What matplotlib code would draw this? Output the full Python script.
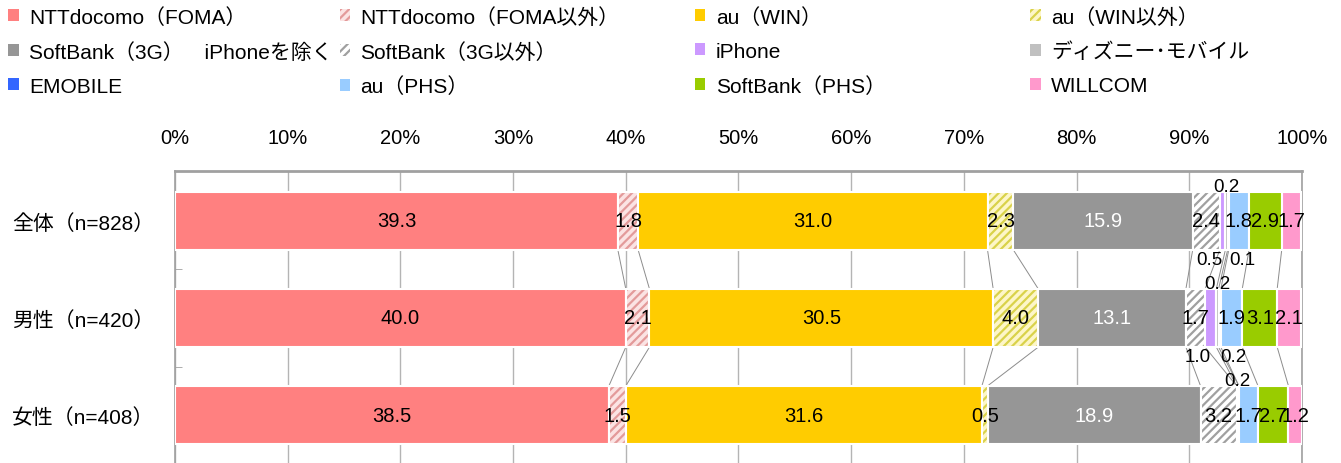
import numpy as np
import matplotlib
matplotlib.use("Agg")
import matplotlib.pyplot as plt
from matplotlib.patches import Patch

plt.rcParams['font.family'] = ['Liberation Sans', 'Noto Sans CJK JP', 'DejaVu Sans']
plt.rcParams['hatch.linewidth'] = 1.6

groups = ['全体（n=828）', '男性（n=420）', '女性（n=408）']
series = ['NTTdocomo（FOMA）', 'NTTdocomo（FOMA以外）', 'au（WIN）', 'au（WIN以外）',
          'SoftBank（3G）　iPhoneを除く', 'SoftBank（3G以外）', 'iPhone', 'ディズニー･モバイル',
          'EMOBILE', 'au（PHS）', 'SoftBank（PHS）', 'WILLCOM']

total = [39.3, 1.8, 31.0, 2.3, 15.9, 2.4, 0.5, 0.2, 0.1, 1.8, 2.9, 1.7]
male = [40.0, 2.1, 30.5, 4.0, 13.1, 1.7, 1.0, 0.2, 0.2, 1.9, 3.1, 2.1]
female = [38.5, 1.5, 31.6, 0.5, 18.9, 3.2, 0.0, 0.2, 0.0, 1.7, 2.7, 1.2]

xticks = [0, 10, 20, 30, 40, 50, 60, 70, 80, 90, 100]
xticklabels = ['%d%%' % v for v in xticks]

# face colour, hatch colour (None = solid)
faces = ['#ff8080', '#fbe3e3', '#ffcc00', '#fdf6c8', '#969696', '#ffffff',
         '#cc99ff', '#c0c0c0', '#3366ff', '#99ccff', '#99cc00', '#ff99cc']
hatches = [None, '#e39a9a', None, '#d9d24a', None, '#a0a0a0',
           None, None, None, None, None, None]
# label placement for the tiny segments: 0 = inside, 1 = above, -1 = below
place = [0, 0, 0, 0, 0, 0, -1, 1, -1, 0, 0, 0]
# sideways nudge (pixels) for the tiny labels so they do not collide
nudge = [0, 0, 0, 0, 0, 0, -13, 0, 14, 0, 0, 0]
white_text = [False, False, False, False, True, False,
              False, False, False, False, False, False]

data = np.array([total, male, female])
ypos = np.arange(len(groups))
h = 0.6

fig = plt.figure(figsize=(13.41, 4.64), dpi=100)
ax = fig.add_axes([0.1305, -0.0043, 0.8404, 0.6336])

left = np.zeros(len(groups))
for i in range(len(series)):
    vals = data[:, i]
    if hatches[i] is None:
        ax.barh(ypos, vals, h, left=left, color=faces[i], edgecolor='white', linewidth=1.5, zorder=3)
    else:
        ax.barh(ypos, vals, h, left=left, color=faces[i], edgecolor=hatches[i], hatch='////',
                linewidth=0, zorder=3)
        ax.barh(ypos, vals, h, left=left, fill=False, edgecolor='white', linewidth=1.5, zorder=3)
    for g in range(len(groups)):
        v = vals[g]
        if v <= 0:
            continue
        cx = left[g] + v / 2
        col = 'white' if white_text[i] else 'black'
        if place[i] == 0:
            ax.text(cx, ypos[g], '%.1f' % v, ha='center', va='center', fontsize=14.5, color=col, zorder=5)
        elif place[i] == 1:
            ax.annotate('%.1f' % v, (cx, ypos[g] - h / 2), xytext=(nudge[i] * 0.72, 4),
                        textcoords='offset points', ha='center', va='center', fontsize=13.5, zorder=5)
        else:
            ax.annotate('%.1f' % v, (cx, ypos[g] + h / 2), xytext=(nudge[i] * 0.72, -7),
                        textcoords='offset points', ha='center', va='center', fontsize=13.5, zorder=5)
    left = left + vals

# series lines between bars
cum = np.cumsum(data, axis=1)
for g in range(len(groups) - 1):
    for k in range(len(series) - 1):
        ax.plot([cum[g, k], cum[g + 1, k]], [ypos[g] + h / 2, ypos[g + 1] - h / 2],
                color='#8c8c8c', linewidth=0.7, zorder=2)

ax.set_xlim(0, 100)
ax.set_ylim(2.515, -0.515)
ax.xaxis.tick_top()
ax.set_xticks(xticks)
ax.set_xticklabels(xticklabels, fontsize=14.5)
ax.tick_params(axis='x', length=0, pad=17)
ax.set_yticks(ypos)
ax.set_yticklabels(groups, fontsize=15)
ax.tick_params(axis='y', length=0, pad=15)
ax.set_yticks([0.5, 1.5], minor=True)
ax.tick_params(axis='y', which='minor', direction='in', length=5, color='#a0a0a0')
ax.grid(axis='x', color='#b4b4b4', linewidth=1, zorder=0)
ax.set_axisbelow(True)
for s in ax.spines.values():
    s.set_color('#a0a0a0')
    s.set_linewidth(1.2)
ax.spines['top'].set_linewidth(2)

# legend in four columns, three rows
handles = []
for i in range(len(series)):
    if hatches[i] is None:
        handles.append(Patch(facecolor=faces[i], edgecolor='none'))
    else:
        handles.append(Patch(facecolor=faces[i], edgecolor=hatches[i], hatch='////', linewidth=0))
colx = [-0.003, 0.244, 0.509, 0.759]
for c in range(4):
    idx = [c, c + 4, c + 8]
    leg = fig.legend([handles[j] for j in idx], [series[j] for j in idx],
                     loc='upper left', bbox_to_anchor=(colx[c], 1.01), frameon=False,
                     fontsize=15, handlelength=0.5, handleheight=0.5, handletextpad=0.5,
                     labelspacing=0.72, borderaxespad=0.2)

fig.savefig('out.png', dpi=100)
